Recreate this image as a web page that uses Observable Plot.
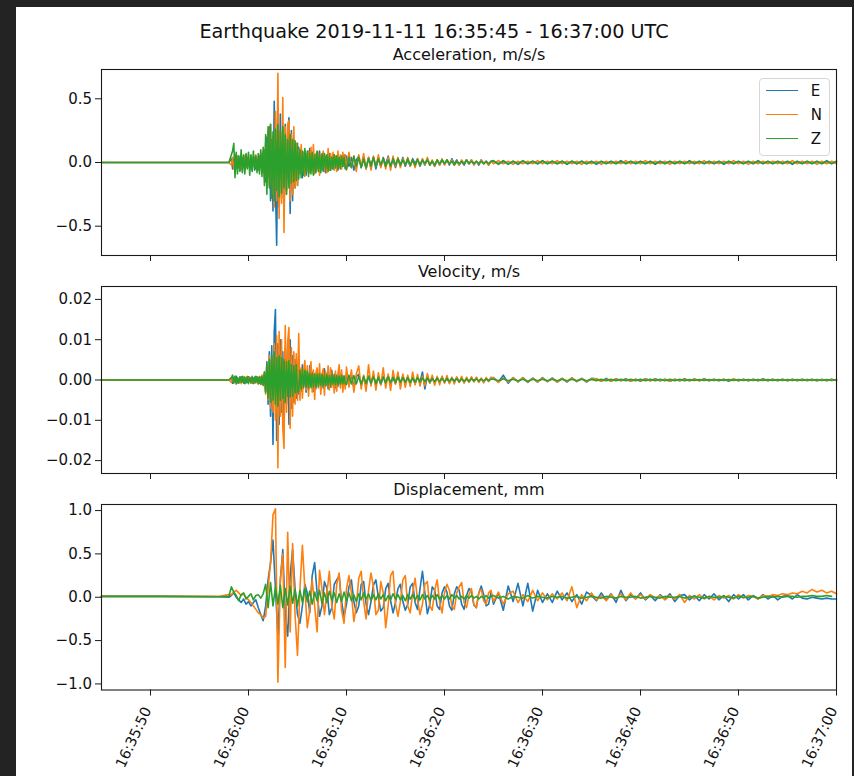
<!DOCTYPE html>
<html>
<head>
<meta charset="utf-8">
<script src="https://cdn.jsdelivr.net/npm/d3@7"></script>
<script src="https://cdn.jsdelivr.net/npm/@observablehq/plot@0.6"></script>
<style>
  html, body { margin: 0; padding: 0; background: #232323; overflow: hidden; width: 854px; height: 776px; }
  #fig { position: absolute; left: 16px; top: 7px; width: 836px; height: 769px; background: #fff; overflow: hidden;
         font-family: "DejaVu Sans", sans-serif; color: #111; }
  #title { position: absolute; left: 0; width: 836px; top: 14.6px; text-align: center; font-size: 19.2px; line-height: 19.2px; white-space: nowrap; }
  #legend { position: absolute; left: 742.7px; top: 70.7px; width: 69px; height: 76px; border: 1px solid #d6d6d6; border-radius: 4px;
            background: rgba(255,255,255,0.85); font-size: 15px; }
  .lg-row { position: absolute; left: 0; width: 69px; height: 20px; }
  .lg-line { position: absolute; left: 6.6px; width: 32px; top: 9px; height: 0; border-top: 1.8px solid; }
  .lg-text { position: absolute; left: 51px; top: 0; line-height: 20px; }
</style>
</head>
<body>
<div id="fig">
  <div id="title">Earthquake 2019-11-11 16:35:45 - 16:37:00 UTC</div>
</div>
<script>
// ---------- sampling (seconds after 16:35:45 UTC) ----------
const startUTC = Date.UTC(2019, 10, 11, 16, 35, 45);
const endUTC = Date.UTC(2019, 10, 11, 16, 37, 0);
const leadSeconds = [0, 6, 12, 13];                 // quiet pre-event samples
// acceleration / velocity grid
const fineStart = 13.25, fineStep = 0.125, fineCount = 94;   // 13.25 .. 24.875 s
const midStart = 25, midStep = 0.25, midCount = 60;          // 25 .. 39.75 s
// displacement grid
const denseStart = 13.25, denseStep = 0.25, denseCount = 107; // 13.25 .. 39.75 s
// shared tail
const tailStart = 40, tailStep = 0.5, tailCount = 71;         // 40 .. 75 s

const components = ["E", "N", "Z"];
const componentColors = ["#1f77b4", "#ff7f0e", "#2ca02c"];
const panelTitles = ["Acceleration, m/s/s", "Velocity, m/s", "Displacement, mm"];
const xTickLabels = ["16:35:50", "16:36:00", "16:36:10", "16:36:20", "16:36:30", "16:36:40", "16:36:50", "16:37:00"];
const accelTicks = [-0.5, 0, 0.5];
const velTicks = [-0.02, -0.01, 0, 0.01, 0.02];
const dispTicks = [-1, -0.5, 0, 0.5, 1];

// ---------- Acceleration, units of 0.01 m/s/s (lead, fine, mid, tail) ----------
const accelE = [
  0,0,0,0,
  3,-5,2,6,-4,-1,5,-6,3,-2,4,-5,6,-3,1,-4,5,-6,2,4,-5,3,-6,5,-4,7,-8,
  10,-15,20,-12,28,-30,18,-38,48,-20,-65,30,-35,38,-28,25,-42,30,-22,20,35,-40,25,-30,18,-20,15,-18,
  12,-8,10,-12,6,9,-10,5,-8,11,-6,7,-9,4,-7,8,-5,9,-6,3,
  -7,6,-8,5,-4,7,-6,3,-5,6,-4,5,-6,2,-5,4,-3,6,-5,
  5,-3,4,-6,2,5,-4,3,-5,4,
  -2,4,-5,3,-3,4,-2,5,-3,2,
  -4,3,-2,4,-3,2,-3,3,-1,3,
  -3,2,-2,3,-2,1,-3,2,-2,2,
  -1,2,-2,3,-1,2,-2,1,-2,2,
  -1,2,-1,1,-2,2,-1,1,-2,1,
  1,-1,1.5,-1,1,-1.5,1,-1,1,-1,
  1.5,-1,1,-1,1,-1.5,1,-1,1,-1,
  1,-1.5,1,-1,1,-1,1.5,-1,1,-1,
  1,-1,1,-1.5,1,-1,1,-1,1,-1,
  1.5,-1,1,-1,1,-1,1,-1.5,1,-1,
  1,-1,1,-1,1.5,-1,1,-1,1,-1,
  1,-1.5,1,-1,1,-1,1,-1,1.5,-1,
  1
];
const accelN = [
  0,0,0,0,
  -2,4,-5,3,-1,5,-4,2,-6,4,-3,5,-2,-4,6,-5,3,-4,5,-2,6,-5,4,-6,7,-5,9,
  -12,15,-20,25,-18,30,-25,20,-35,40,-30,70,-44,25,-32,51,-55,28,-25,30,33,-30,22,-25,28,-20,15,-18,
  10,-9,14,-6,8,-11,7,-5,9,-8,12,-6,14,-9,7,-5,8,-10,6,-4,
  9,-7,5,-8,11,-6,7,-4,8,-6,5,-7,9,-4,6,-5,8,-3,6,
  -6,8,-4,5,-7,6,-3,7,-5,4,
  -6,5,-3,6,-4,3,-5,4,-6,5,
  -3,4,-4,3,-2,4,-3,2,-4,3,
  -2,3,-2,4,-2,2,-3,2,-2,3,
  -2,2,-1,2,-2,1,-2,2,-1,2,
  -1,2,-2,1,-1,2,-1,1,-2,1,
  -1,1.5,-1,1,-1.5,1,-1,1,-1,1.5,
  -1,1,-1,1.5,-1,1,-1,1,-1.5,1,
  -1,1,-1.5,1,-1,1,-1,1.5,-1,1,
  -1,1.5,-1,1,-1,1,-1.5,1,-1,1,
  -1,1,-1,1.5,-1,1,-1,1,-1,1.5,
  -1,1,-1.5,1,-1,1,-1,1,-1,1,
  -1,1.5,-1,1,-1,1,-1.5,1,-1,1,
  -1
];
const accelZ = [
  0,0,0,0,
  6,9,15,-12,8,-9,5,-7,10,-8,6,-9,7,-5,8,-10,6,-7,9,-6,5,-8,7,-9,10,-11,12,
  -18,22,-25,28,-20,30,-28,24,-30,26,-22,30,-27,25,-24,28,-20,22,-25,18,-20,22,-16,18,-15,17,-14,15,
  -13,10,-12,9,-10,11,-8,9,-11,7,-9,8,-10,6,-8,9,-7,6,-8,7,
  -6,7,-5,6,-7,5,-6,4,-5,6,-4,5,-5,4,-4,5,-3,4,-4,
  -5,4,-4,5,-3,4,-4,3,-4,3,
  -3,4,-3,3,-2,3,-3,2,-3,3,
  -2,3,-2,2,-2,3,-2,2,-2,2,
  -2,2,-1,2,-2,1,-2,2,-1,2,
  -1,2,-1,1,-2,1,-1,1,-1,2,
  -1,1,-1,1,-1,1,-1,1,-1,1,
  1.5,-1.5,1,-1.5,1,-1,1.5,-1,1,-1,
  1,-1,1,-1,1,-1,1,-1,1,-1,
  0.8,-0.8,0.8,-0.8,0.8,-0.8,0.8,-0.8,0.8,-0.8,
  0.8,-0.8,0.8,-0.8,0.8,-0.8,0.8,-0.8,0.8,-0.8,
  0.8,-0.8,0.8,-0.8,0.8,-0.8,0.8,-0.8,0.8,-0.8,
  0.8,-0.8,0.8,-0.8,0.8,-0.8,0.8,-0.8,0.8,-0.8,
  0.8,-0.8,0.8,-0.8,0.8,-0.8,0.8,-0.8,0.8,-0.8,
  0.8
];

// ---------- Velocity, units of 0.0001 m/s (lead, fine, mid, tail) ----------
const velE = [
  0,0,0,0,
  5,-8,6,-4,9,-7,3,-6,8,-5,7,-9,4,-6,8,-3,6,-8,5,-7,9,-4,6,-8,7,-10,-12,
  15,-30,45,-60,70,-90,85,-160,120,175,-150,90,-110,100,-80,70,-95,80,-60,90,-110,100,-70,60,-55,50,-45,40,
  -35,20,-28,38,-15,22,-30,18,-25,35,-12,20,-28,15,-22,26,-10,18,-24,14,
  -20,28,-12,16,-22,10,-18,24,-8,14,-20,12,-16,22,-10,15,-18,9,-14,
  16,-10,12,-18,8,14,-12,7,-15,10,
  -8,13,-11,6,-12,9,-7,11,-10,5,
  -9,12,-7,10,-8,8,-10,6,-9,7,
  -5,20,-22,9,-7,4,-8,6,-5,7,
  -6,4,-7,5,-3,6,-5,4,-6,3,
  -5,6,-3,5,-4,3,-5,4,-2,5,
  6,-5,12,-8,6,-5,6,-6,5,-5,6,-4,5,-5,4,-5,5,-4,4,-5,4,
  3,-3,4,-3,3,-2,3,-3,2,-3,
  3,-2,3,-2,2,-3,2,-2,3,-2,
  2,-2,3,-2,2,-2,2,-3,2,-2,
  2,-2,2,-2,3,-2,2,-2,2,-2,
  2,-2,2,-1,2,-2,1,-2,2,-1
];
const velN = [
  0,0,0,0,
  -6,8,-5,9,-7,4,-8,6,-9,7,-4,8,-6,9,-5,7,-8,5,-9,6,-7,8,-10,9,-11,12,-14,
  20,-35,40,-50,60,-70,55,-80,90,-100,110,-218,120,-90,100,-120,-170,135,-80,95,130,-120,80,-90,70,-60,65,-50,
  115,-50,30,-45,20,48,-25,35,-40,15,45,-30,25,-48,18,30,-20,40,-35,12,
  28,-38,20,-15,35,-25,30,-18,12,-32,22,-28,15,38,-20,25,-30,10,-22,
  32,-18,25,-30,15,35,-22,12,-28,38,
  -15,22,-25,18,-12,30,-20,15,-26,24,
  -10,20,-22,15,-18,12,-16,20,-12,14,
  -15,10,-14,16,-8,12,-13,9,-12,10,
  -8,11,-9,7,-10,8,-6,9,-8,7,
  -6,8,-5,7,-6,5,-7,6,-4,7,
  5,-6,5,-5,6,-4,5,-5,4,-5,5,-4,4,-5,4,-4,5,-3,4,-4,3,
  3,-3,2,-3,3,-2,2,-3,2,-2,
  3,-2,2,-2,2,-3,2,-2,2,-2,
  3,-2,2,-2,2,-2,2,-2,3,-2,
  2,-2,2,-2,2,-2,2,-1,2,-2,
  2,-1,2,-2,1,-2,2,-1,2,-1
];
const velZ = [
  0,0,0,0,
  5,12,-8,9,-10,6,-7,8,-5,9,-8,6,-7,8,-9,5,-6,9,-8,7,-6,8,-9,7,-10,9,-12,
  20,-30,40,-45,50,-55,60,-50,70,-60,55,-65,60,-50,55,-45,50,-55,45,-40,48,-42,38,-40,35,-32,38,-30,
  -28,25,-22,26,-20,24,-18,22,-20,17,-19,16,-18,15,-17,14,-16,15,-13,14,
  -15,12,-14,13,-12,11,-13,12,-10,11,-12,10,-11,9,-10,11,-9,10,-9,
  -11,12,-10,11,-10,9,-10,9,-8,9,
  -8,8,-9,7,-8,7,-7,8,-6,7,
  -6,7,-6,6,-5,6,-6,5,-5,6,
  -5,5,-4,5,-5,4,-4,5,-4,4,
  -4,4,-3,4,-3,3,-4,3,-3,3,
  -3,3,-2,3,-3,2,-2,3,-2,2,
  2,-2,3,-2,2,-2,2,-3,2,-2,
  2,-2,2,-2,2,-2,2,-2,2,-2,
  1.5,-1.5,1.5,-1.5,1.5,-1.5,1.5,-1.5,1.5,-1.5,
  1.5,-1.5,1.5,-1.5,1.5,-1.5,1.5,-1.5,1.5,-1.5,
  1,-1,1,-1,1,-1,1,-1,1,-1,
  1,-1,1,-1,1,-1,1,-1,1,-1,
  1,-1,1,-1,1,-1,1,-1,1,-1,
  1
];

// ---------- Displacement, units of 0.01 mm (lead, dense, tail) ----------
const dispE = [
  1,1,0.5,0,
  2,5,0,-3,-6,-2,-8,-5,-10,-6,-3,-12,-20,-27,
  -10,20,40,66,10,-44,20,55,-20,-45,25,55,10,-20,
  -30,-10,15,5,-18,25,40,5,-22,-10,18,10,-20,-12,15,20,25,-5,-22,-8,
  12,20,-5,-18,-10,15,18,-8,-20,-5,14,20,0,-16,-12,10,16,-4,-18,-6,
  10,15,-5,-15,-8,12,16,-6,-14,10,30,5,-19,-8,12,8,-10,-14,5,12,
  6,-10,-15,4,12,8,-8,-14,2,10,6,-9,-12,5,13,3,-10,-8,6,
  -8,5,-15,13,-5,16,-10,16,-16,8,-6,
  4,-6,7,-3,5,-5,3,-8,6,2,-4,5,-3,4,-6,8,-4,3,-2,5,
  -3,2,-4,3,-2,4,-5,2,3,-3,
  2,-4,3,-2,4,-3,2,-5,3,-2,
  3,-3,2,-2,3,-2,2,-3,1,2,
  -2,3,-1,-2,0,-1,-2,-1,-2,-2
];
const dispN = [
  1,1,1,3,
  3,6,8,5,2,4,0,-3,-6,-10,-14,-18,-20,-24,
  -22,10,40,95,102,-98,20,50,-81,75,-40,62,-20,-67,
  10,60,10,-35,-15,20,-10,-40,31,10,-20,5,30,-10,-25,15,28,-15,-30,10,
  25,5,-28,-10,22,30,-5,-25,8,28,12,-20,-15,18,5,-35,-10,25,30,-8,
  -22,-5,20,25,-10,-18,5,22,-3,-20,-8,15,18,-10,-15,8,20,-5,-18,5,
  15,8,-10,-14,5,12,17,-6,-12,3,10,-8,-12,6,9,-4,-8,5,8,
  -5,6,-8,4,7,-6,3,-5,8,-4,5,
  -3,4,-2,5,-4,12,-12,3,-4,5,-3,2,-4,3,-2,4,-3,5,-2,3,
  -2,3,-1,2,-3,2,-2,3,-6,2,
  -2,3,-2,1,-3,2,-1,2,-2,3,
  -1,2,1,-2,2,1,3,2,4,3,
  5,4,7,5,9,6,8,5,7,4
];
const dispZ = [
  1,1,0.5,1,
  12,6,2,-4,3,5,-2,1,4,-3,2,3,-1,4,
  15,-12,17,-10,12,-8,14,-12,10,-9,13,-7,9,-10,
  8,-6,10,-5,7,-8,6,-4,8,-7,5,-6,7,-3,5,-6,4,-5,6,-4,
  5,-4,3,-5,4,-3,5,-2,4,-4,3,-3,4,-2,3,-4,2,-3,4,-2,
  3,-3,2,-4,3,-2,3,-3,2,-3,3,-2,2,-3,2,-2,3,-2,2,-2,
  2,-2,3,-1,2,-2,1,-2,2,-1,2,-1,1,-2,1,-1,2,-1,1,
  2,-1,1,-2,1,0,-1,2,-1,1,
  0,-1,1,0,1,-1,0,1,-1,0,
  1,0,-1,1,0,-1,1,0,0,1,
  -1,0,1,0,-1,1,0,0,1,-1,
  0,1,0,-1,1,0,0,1,0,-1,
  1,0,0,1,-1,0,1,0,1,0,
  1,1,0,1,1,2,1,1,2,1
];

// ---------- sample times ----------
const toDate = s => new Date(startUTC + s * 1000);
const avSeconds = leadSeconds
  .concat(d3.range(fineCount).map(i => fineStart + fineStep * i))
  .concat(d3.range(midCount).map(i => midStart + midStep * i))
  .concat(d3.range(tailCount).map(j => tailStart + tailStep * j));
const dSeconds = leadSeconds
  .concat(d3.range(denseCount).map(i => denseStart + denseStep * i))
  .concat(d3.range(tailCount).map(j => tailStart + tailStep * j));
const avTimes = avSeconds.map(toDate);
const dTimes = dSeconds.map(toDate);
const xTickDates = xTickLabels.map(l => {
  const [h, m, s] = l.split(":").map(Number);
  return new Date(Date.UTC(2019, 10, 11, h, m, s));
});

const fig = document.getElementById("fig");
const FONT = "'DejaVu Sans', sans-serif";

function panel({series, times, unit, domain, ticks, fmt, subtitle, frameTop, frameHeight, bottomLabels}) {
  const marginTop = 30, marginBottom = bottomLabels ? 86 : 12;
  const marks = [];
  series.forEach((vals, k) => {
    const n = Math.min(vals.length, times.length);
    if (vals.length !== times.length) console.warn(subtitle, components[k], vals.length, times.length);
    marks.push(Plot.line(d3.range(n), {
      x: i => times[i], y: i => vals[i] * unit,
      stroke: componentColors[k], strokeWidth: 1.6
    }));
  });
  marks.push(Plot.frame({stroke: "#1a1a1a", strokeWidth: 1.1}));
  marks.push(Plot.axisY({ticks, tickFormat: fmt, tickSize: 6, tickPadding: 3.5, label: null, fontSize: 15, stroke: "#1a1a1a"}));
  marks.push(Plot.axisX({ticks: xTickDates, tickSize: 6, tickFormat: () => "", label: null, stroke: "#1a1a1a"}));
  if (bottomLabels) {
    marks.push(Plot.text(xTickDates, {
      x: d => d, frameAnchor: "bottom", text: (d, i) => xTickLabels[i],
      rotate: -65, textAnchor: "end", lineAnchor: "middle",
      dx: -3, dy: 18, fontSize: 14.5, fill: "#111"
    }));
  }
  marks.push(Plot.text([subtitle], {
    frameAnchor: "top", text: d => d, dy: -9.5, lineAnchor: "bottom", fontSize: 16, fill: "#111"
  }));
  const svg = Plot.plot({
    width: 836,
    height: marginTop + frameHeight + marginBottom,
    marginLeft: 85, marginRight: 16, marginTop, marginBottom,
    x: {type: "utc", domain: [new Date(startUTC), new Date(endUTC)], axis: null},
    y: {domain, axis: null},
    style: {background: "transparent", overflow: "visible", fontFamily: FONT, fontSize: "15px", color: "#111"},
    marks
  });
  svg.style.position = "absolute";
  svg.style.left = "0px";
  svg.style.top = (frameTop - marginTop) + "px";
  fig.appendChild(svg);
}

panel({series: [accelE, accelN, accelZ], times: avTimes, unit: 0.01, domain: [-0.73, 0.73], ticks: accelTicks,
       fmt: d3.format(".1f"), subtitle: panelTitles[0], frameTop: 62.3, frameHeight: 186, bottomLabels: false});
panel({series: [velE, velN, velZ], times: avTimes, unit: 0.0001, domain: [-0.0232, 0.0232], ticks: velTicks,
       fmt: d3.format(".2f"), subtitle: panelTitles[1], frameTop: 278.7, frameHeight: 187, bottomLabels: false});
panel({series: [dispE, dispN, dispZ], times: dTimes, unit: 0.01, domain: [-1.07, 1.07], ticks: dispTicks,
       fmt: d3.format(".1f"), subtitle: panelTitles[2], frameTop: 497, frameHeight: 185.5, bottomLabels: true});

// legend (inside the first panel, upper right)
const legend = document.createElement("div");
legend.id = "legend";
components.forEach((c, k) => {
  const row = document.createElement("div");
  row.className = "lg-row";
  row.style.top = (2.3 + 24.2 * k) + "px";
  const line = document.createElement("div");
  line.className = "lg-line";
  line.style.borderTopColor = componentColors[k];
  const txt = document.createElement("div");
  txt.className = "lg-text";
  txt.textContent = c;
  row.appendChild(line); row.appendChild(txt);
  legend.appendChild(row);
});
fig.appendChild(legend);
</script>
</body>
</html>
